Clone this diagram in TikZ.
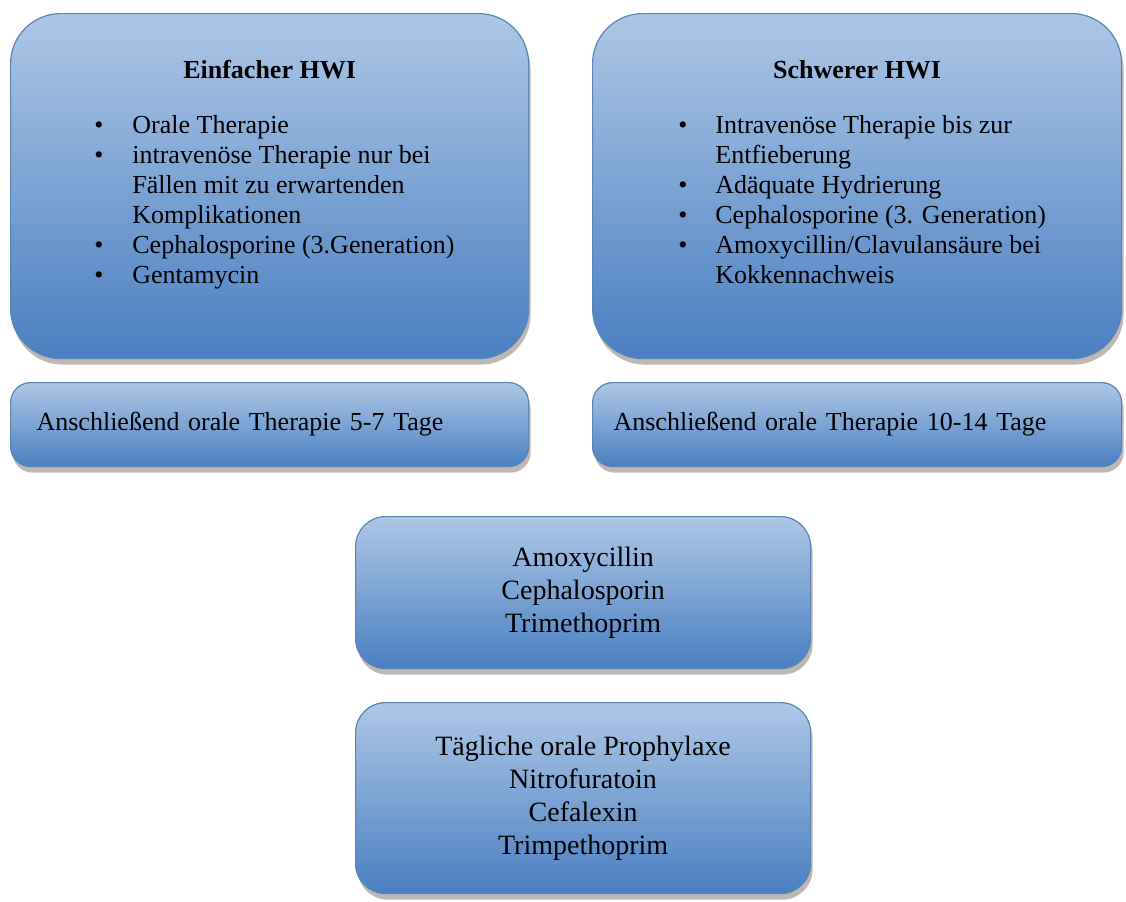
\documentclass[tikz,border=0pt]{standalone}
\usepackage{fontspec}
\setmainfont{Liberation Serif}
\usetikzlibrary{positioning,shadows}

\definecolor{boxtop}{HTML}{AEC7E6}
\definecolor{boxbot}{HTML}{4A7FC1}
\definecolor{boxline}{HTML}{5B84B6}
\definecolor{shadowcol}{HTML}{6E6258}

\tikzset{
  box/.style={draw=boxline, line width=0.6pt, top color=boxtop, bottom color=boxbot,
    drop shadow={shadow xshift=1pt, shadow yshift=-3pt, fill=shadowcol, opacity=0.45},
    anchor=north west, inner sep=0pt},
  bigbox/.style={box, rounded corners=25pt, minimum width=#1, minimum height=172.5pt},
  lowbox/.style={box, rounded corners=10pt, minimum height=42pt, text width=#1,
    align=left, font=\fontsize{13}{15.25}\selectfont},
  midbox/.style={box, rounded corners=15pt, minimum width=227.5pt, minimum height=#1,
    align=center, font=\fontsize{14}{16.5}\selectfont},
  boxtitle/.style={font=\fontsize{13}{15}\selectfont\bfseries, inner sep=0pt},
  listtext/.style={font=\fontsize{13}{15}\selectfont, inner sep=0pt, anchor=north west}
}

\begin{document}
\begin{tikzpicture}[x=0.5pt,y=-0.5pt]
  \useasboundingbox (0,0) rectangle (1126,901);
  \fill[white] (0,0) rectangle (1126,901);

  % top boxes
  \node[bigbox=259pt] (einfach) at (10,13) {};
  \node[bigbox=264.5pt] (schwer) at (592,13) {};

  \node[boxtitle, below=28.5pt of einfach.north, anchor=center] (t1) {Einfacher HWI};
  \node[boxtitle, below=28.5pt of schwer.north, anchor=center] (t2) {Schwerer HWI};

  \node[listtext] (l1) at ([xshift=42pt,yshift=-49.5pt]einfach.north west) {%
    \begin{tabular}{@{}p{19pt}@{}l@{}}
      \textbullet & Orale Therapie\\
      \textbullet & intravenöse Therapie nur bei\\
                  & Fällen mit zu erwartenden\\
                  & Komplikationen\\
      \textbullet & Cephalosporine (3.Generation)\\
      \textbullet & Gentamycin
    \end{tabular}};
  \node[listtext] (l2) at ([xshift=43pt,yshift=-49.5pt]schwer.north west) {%
    \begin{tabular}{@{}p{18.5pt}@{}l@{}}
      \textbullet & Intravenöse Therapie bis zur\\
                  & Entfieberung\\
      \textbullet & Adäquate Hydrierung\\
      \textbullet & Cephalosporine (3. Generation)\\
      \textbullet & Amoxycillin/Clavulansäure bei\\
                  & Kokkennachweis
    \end{tabular}};

  % follow-up boxes
  \node[lowbox=233pt, inner xsep=13pt] (oral1) at (10,382)
    {Anschließend orale Therapie 5-7 Tage};
  \node[lowbox=243.5pt, inner xsep=10.5pt] (oral2) at (592,382)
    {Anschließend orale Therapie 10-14 Tage};

  % middle boxes
  \node[midbox=76pt] (akut) at (355,516)
    {Amoxycillin\\Cephalosporin\\Trimethoprim};
  \node[midbox=95.5pt] (prophy) at (355,702)
    {Tägliche orale Prophylaxe\\Nitrofuratoin\\Cefalexin\\Trimpethoprim};
\end{tikzpicture}
\end{document}
